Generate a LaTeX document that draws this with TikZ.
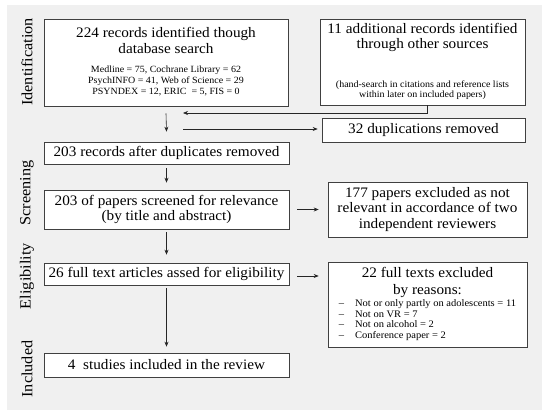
\documentclass[tikz,border=0pt]{standalone}
\usepackage{fontspec}
\setmainfont[FakeStretch=1.05]{Liberation Serif}
\usetikzlibrary{positioning,arrows.meta}
\tikzset{
  stagebox/.style={draw=black!75, fill=white, line width=0.6pt, align=center, inner sep=2pt,
    font=\fontsize{14.5}{15.5}\selectfont},
  flow/.style={line width=0.6pt, draw=black!85, -{Stealth[length=5pt,width=4pt]}},
  phase/.style={rotate=90, font=\fontsize{15.5}{17}\selectfont}
}
\newcommand{\smalltext}{\fontsize{9.5}{10.6}\selectfont}
\newcommand{\listtext}{\fontsize{10}{10.8}\selectfont}

\begin{document}
\begin{tikzpicture}[x=1pt, y=-1pt]
    \useasboundingbox (0,0) rectangle (550,415);
    \fill[black!6] (7,5) rectangle (542,410);

    % phases
    \node[phase] (idlab)   at (27,62)  {Identification};
    \node[phase] (scrlab)  at (27,193) {Screening};
    \node[phase] (eliglab) at (27,276) {Eligibility};
    \node[phase] (incllab) at (27,369) {Included};

    % left column
    \node[stagebox, minimum width=244, minimum height=87] (ident) at (166,62.5)
      {224 records identified though\\database search\\[11pt]
       {\smalltext\begin{tabular}{@{}c@{}}
         Medline = 75, Cochrane Library = 62\\
         PsychINFO = 41, Web of Science = 29\\
         PSYNDEX = 12, ERIC\ \ = 5, FIS = 0
       \end{tabular}}};
    \node[stagebox, minimum width=245, minimum height=22] (after) at (166.5,153)
      {203 records after duplicates removed};
    \node[stagebox, minimum width=245, minimum height=39] (screen) at (166.5,209.5)
      {203 of papers screened for relevance\\(by title and abstract)};
    \node[stagebox, minimum width=245, minimum height=22] (full) at (166.5,274)
      {26 full text articles assed for eligibility};
    \node[stagebox, minimum width=245, minimum height=24] (incl) at (166.5,365)
      {4\ \ studies included in the review};

    % right column
    \node[stagebox, minimum width=205, minimum height=86] (other) at (422.5,62)
      {11 additional records identified\\through other sources\\[27pt]
       {\smalltext\begin{tabular}{@{}c@{}}
         (hand-search in citations and reference lists\\
         within later on included papers)
       \end{tabular}}};
    \node[stagebox, minimum width=203, minimum height=24] (dupl) at (423.5,130)
      {32 duplications removed};
    \node[stagebox, minimum width=199, minimum height=55] (excl1) at (427.5,209.5)
      {177 papers excluded as not\\relevant in accordance of two\\independent reviewers};
    \node[stagebox, minimum width=199, minimum height=85] (excl2) at (427.5,304.5)
      {22 full texts excluded\\[2pt]by reasons:\\[0pt]
       {\listtext\begin{tabular}{@{}l@{\hspace{11pt}}l@{}}
         -- & Not or only partly on adolescents = 11\\
         -- & Not on VR = 7\\
         -- & Not on alcohol = 2\\
         -- & Conference paper = 2
       \end{tabular}}};

    \coordinate (merge) at (183,113);
    \coordinate (split) at (183,129);

    \draw[flow] ([xshift=4.5pt]other.south) |- (merge);
    \draw[flow] ([yshift=-7pt]ident.south) -- ([yshift=10pt]after.north);
    \draw[flow] (split) -- ([xshift=-4pt]split -| dupl.west);
    \draw[flow] ([yshift=-4pt]after.south) -- ([yshift=7pt]screen.north);
    \draw[flow] ([xshift=8pt]screen.east) -- ([xshift=-9pt]excl1.west);
    \draw[flow] ([yshift=-3pt]screen.south) -- ([yshift=8pt]full.north);
    \draw[flow] ([xshift=8pt,yshift=-2pt]full.east) -- ([xshift=-9pt,yshift=-2pt]full.east -| excl2.west);
    \draw[flow] ([yshift=-3pt]full.south) -- ([yshift=6pt]incl.north);
\end{tikzpicture}
\end{document}
